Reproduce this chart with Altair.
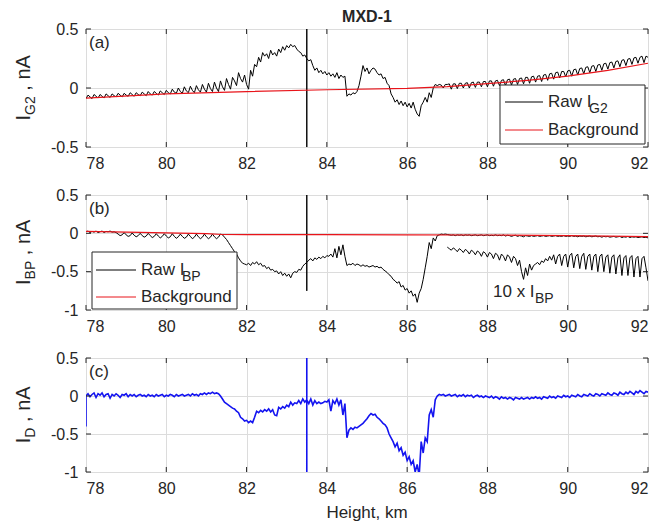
import altair as alt
import pandas as pd

FONT = "Liberation Sans"
TXT = "#262626"
W = 562
H_A, H_B, H_C = 118, 115, 114
X_DOMAIN = [78, 92]
X_TICKS = [78, 80, 82, 84, 86, 88, 90, 92]
STEP = 0.05

# ---------------- panel (a): Raw I_G2 and background ----------------
raw_g2_segments = [
    (78.00, [-0.09, -0.06, -0.075, -0.09, -0.055, -0.07, -0.085, -0.055, -0.07, -0.085,
             -0.05, -0.065, -0.08, -0.05, -0.065, -0.075, -0.045, -0.06, -0.075, -0.045,
             -0.06, -0.07, -0.04, -0.055, -0.07, -0.04, -0.055, -0.065, -0.035, -0.05,
             -0.065, -0.03, -0.05, -0.06, -0.03, -0.045, -0.06, -0.025, -0.04, -0.055, -0.02]),
    (80.05, [-0.04, -0.05, -0.01, -0.035, -0.045, 0.0, -0.03, -0.045, 0.01, -0.025,
             -0.04, 0.015, -0.02, -0.04, 0.02, -0.015, -0.035, 0.03, -0.01, -0.035]),
    (81.05, [0.04, -0.005, -0.03, 0.05, 0.0, -0.03, 0.06, 0.01, -0.02, 0.08,
             0.03, -0.01, 0.09, 0.06, 0.02, 0.13, 0.08, 0.05, 0.11, 0.03]),
    (82.05, [-0.01, 0.15, 0.1, 0.2, 0.18, 0.26, 0.22, 0.3, 0.27, 0.29,
             0.25, 0.32, 0.28, 0.3, 0.27, 0.33, 0.3, 0.35, 0.32, 0.36]),
    (83.05, [0.34, 0.37, 0.35, 0.36, 0.33, 0.31, 0.3, 0.27, 0.28, 0.25,
             0.23, 0.24, 0.19, 0.15, 0.17, 0.13, 0.15, 0.12, 0.14, 0.11]),
    (84.05, [0.13, 0.1, 0.12, 0.09, 0.13, 0.08, 0.11, 0.09, 0.1, -0.07,
             -0.05, -0.06, -0.04, -0.05, -0.03, 0.02, 0.1, 0.19, 0.14, 0.17]),
    (85.05, [0.12, 0.15, 0.17, 0.16, 0.13, 0.11, 0.12, 0.08, 0.09, 0.04,
             0.02, -0.05, -0.08, -0.12, -0.1, -0.14, -0.11, -0.15, -0.12, -0.16]),
    (86.05, [-0.13, -0.17, -0.12, -0.18, -0.22, -0.24, -0.15, -0.12, -0.08, -0.12,
             -0.04, -0.08, 0.0, 0.03, 0.02, 0.03, 0.025, 0.0, 0.03, 0.03]),
    (87.05, [0.035, -0.01, 0.035, 0.035, -0.005, 0.04, 0.04, 0.0, 0.04, 0.045,
             0.0, 0.045, 0.05, 0.005, 0.05, 0.05, 0.01, 0.055, 0.055, 0.01,
             0.06, 0.06, 0.015, 0.06, 0.065, 0.02, 0.065, 0.07, 0.02, 0.07,
             0.075, 0.025, 0.075, 0.08, 0.03, 0.08, 0.085, 0.035, 0.09, 0.09,
             0.04, 0.095, 0.1, 0.05, 0.1, 0.105, 0.055, 0.11, 0.115, 0.065,
             0.12, 0.125, 0.075, 0.13, 0.135, 0.085, 0.14, 0.14, 0.095, 0.145,
             0.15, 0.1, 0.155, 0.16, 0.11, 0.165, 0.17, 0.12, 0.175, 0.18,
             0.13, 0.185, 0.19, 0.14, 0.195, 0.2, 0.15, 0.205, 0.21, 0.16,
             0.215, 0.22, 0.17, 0.225, 0.23, 0.18, 0.235, 0.24, 0.19, 0.245,
             0.25, 0.2, 0.255, 0.26, 0.21, 0.26, 0.27, 0.215, 0.27, 0.26]),
]
raw_g2_spikes = {83.5: [0.6, -0.6, 0.25]}
bg_g2_x = [78, 80, 82, 84, 86, 87, 88, 89, 90, 91, 92]
bg_g2_y = [-0.085, -0.05, -0.03, -0.015, -0.003, 0.012, 0.037, 0.065, 0.1, 0.15, 0.21]

# ---------------- panel (b): Raw I_BP, 10 x I_BP, background ----------------
raw_bp_segments = [
    (78.00, [0.02, 0.03, 0.01, 0.025, 0.015, 0.03, 0.01, 0.02, 0.03, 0.01,
             0.025, 0.02, 0.03, 0.015, 0.02]),
    (78.75, [0.01, -0.01, -0.03, -0.02, 0.01, -0.02, -0.04, -0.03, 0.005, -0.025,
             -0.045, -0.03, 0.0, -0.03, -0.05, -0.035, 0.0, -0.03, -0.055, -0.04,
             -0.005, -0.035, -0.06, -0.04, -0.005, -0.035, -0.06, -0.045, -0.005, -0.04,
             -0.065, -0.045, -0.01, -0.04, -0.065, -0.05, -0.01, -0.04, -0.07, -0.05,
             -0.01, -0.045, -0.07, -0.05, -0.01, -0.045, -0.07, -0.05, -0.01, -0.045,
             -0.07, -0.05, -0.01, -0.02]),
    (81.45, [-0.05, -0.08, -0.12, -0.16, -0.2, -0.24, -0.27, -0.32, -0.36, -0.39,
             -0.4, -0.41]),
    (82.05, [-0.39, -0.42, -0.38, -0.4, -0.37, -0.41, -0.39, -0.43, -0.42, -0.46,
             -0.44, -0.48, -0.47, -0.5, -0.49, -0.53, -0.5, -0.55, -0.52, -0.56,
             -0.53, -0.58, -0.52, -0.5, -0.51, -0.47, -0.48, -0.43, -0.4]),
    (83.50, [-0.38, -0.35, -0.33, -0.36, -0.32, -0.34, -0.31, -0.33, -0.3, -0.32,
             -0.29, -0.3, -0.27, -0.31, -0.2, -0.32, -0.17, -0.28, -0.15, -0.3]),
    (84.50, [-0.42, -0.4, -0.41, -0.39, -0.42, -0.4, -0.41, -0.43, -0.41, -0.43,
             -0.42, -0.44, -0.43, -0.42, -0.44, -0.43, -0.45, -0.44, -0.47, -0.49]),
    (85.50, [-0.51, -0.54, -0.56, -0.6, -0.62, -0.65, -0.63, -0.7, -0.68, -0.74,
             -0.72, -0.78, -0.75, -0.82, -0.79, -0.9, -0.78, -0.72, -0.6, -0.45]),
    (86.50, [-0.3, -0.12, -0.2, -0.06, -0.1, -0.03, -0.02, -0.01, -0.015, -0.01, -0.015]),
    (87.05, [-0.02, -0.025, -0.02, -0.03, -0.02, -0.025, -0.02, -0.03, -0.02, -0.025,
             -0.02, -0.03, -0.025, -0.02, -0.03, -0.025, -0.02, -0.03, -0.025, -0.02,
             -0.03, -0.025, -0.03, -0.02, -0.03, -0.025, -0.03, -0.02, -0.035, -0.025,
             -0.03, -0.04, -0.03, -0.025, -0.04, -0.03, -0.035, -0.045, -0.03]),
    (89.00, [-0.035, -0.04, -0.03, -0.04, -0.035, -0.03, -0.04, -0.035, -0.03, -0.04,
             -0.035, -0.03, -0.04, -0.035, -0.03, -0.04, -0.035, -0.04, -0.03, -0.04,
             -0.035, -0.04, -0.03, -0.04, -0.035, -0.045, -0.035, -0.04, -0.035, -0.045,
             -0.04, -0.035, -0.045, -0.04, -0.035, -0.045, -0.04, -0.05, -0.04, -0.045]),
    (91.00, [-0.04, -0.05, -0.045, -0.04, -0.05, -0.045, -0.04, -0.055, -0.045, -0.05,
             -0.04, -0.055, -0.045, -0.05, -0.045, -0.055, -0.05, -0.045, -0.055, -0.05,
             -0.06]),
]
raw_bp_spikes = {83.5: [0.6, -0.75, -0.38]}
x10_bp_segments = [
    (87.00, [-0.18, -0.2, -0.22, -0.19, -0.21, -0.24, -0.2, -0.22, -0.25, -0.21,
             -0.23, -0.27, -0.22, -0.24, -0.28, -0.23, -0.25, -0.3, -0.24, -0.26,
             -0.31, -0.25, -0.27, -0.33, -0.26, -0.28, -0.35, -0.27, -0.3, -0.36,
             -0.28, -0.31, -0.38, -0.3, -0.33, -0.42, -0.35, -0.5, -0.6, -0.45,
             -0.55, -0.4, -0.48, -0.42, -0.4, -0.38, -0.41, -0.36, -0.38, -0.33,
             -0.36, -0.3, -0.35, -0.28, -0.4, -0.3, -0.27, -0.42, -0.3, -0.27,
             -0.44, -0.29, -0.26, -0.45, -0.3, -0.27, -0.46, -0.3, -0.26, -0.47,
             -0.3, -0.27, -0.48, -0.3, -0.27, -0.5, -0.3, -0.27, -0.5, -0.31,
             -0.28, -0.52, -0.31, -0.28, -0.53, -0.32, -0.28, -0.55, -0.32, -0.29,
             -0.55, -0.32, -0.29, -0.57, -0.33, -0.3, -0.57, -0.33, -0.3, -0.45,
             -0.62]),
]
bg_bp_x = [78, 79, 80, 81, 81.4, 82, 84, 86, 88, 90, 92]
bg_bp_y = [0.025, 0.015, 0.005, -0.005, -0.015, -0.017, -0.018, -0.019, -0.022, -0.03, -0.042]

# ---------------- panel (c): I_D ----------------
id_segments = [
    (78.00, [0.0, 0.03, -0.01, 0.02, 0.04, -0.02, 0.03, 0.01, 0.04, -0.01,
             0.02, 0.03, -0.03, 0.02, 0.0, 0.03, 0.01, -0.02, 0.02, 0.01,
             0.03, -0.01, 0.02, 0.0, 0.02, -0.01, 0.01, 0.02, 0.0, 0.01,
             -0.01, 0.02, 0.0, 0.01, -0.01, 0.02, 0.0, 0.01, 0.02, -0.01,
             0.01, 0.0, 0.02, 0.01, -0.01, 0.02, 0.0, 0.01, 0.02, 0.0,
             0.01, 0.02, 0.0, 0.03, 0.01, 0.02, 0.0, 0.03, 0.02, 0.04,
             0.02, 0.04, 0.03, 0.05, 0.03, 0.04, 0.03]),
    (81.35, [0.0, -0.04, -0.08, -0.1, -0.12, -0.14, -0.16, -0.17, -0.2, -0.22,
             -0.28, -0.3, -0.33, -0.32]),
    (82.05, [-0.35, -0.33, -0.35, -0.28, -0.2, -0.22, -0.19, -0.21, -0.18, -0.2,
             -0.17, -0.21, -0.18, -0.25, -0.26, -0.15, -0.17, -0.14, -0.16, -0.12,
             -0.14, -0.08, -0.12, -0.09, -0.1, -0.06, -0.1, -0.04, -0.08]),
    (83.50, [-0.05, -0.1, -0.04, -0.12, -0.06, -0.1, -0.08, -0.1, -0.09, -0.07,
             -0.08, -0.05, -0.2, -0.06, -0.1, -0.04, -0.12, -0.05, -0.25, -0.1]),
    (84.50, [-0.55, -0.45, -0.42, -0.44, -0.41, -0.42, -0.4, -0.38, -0.36, -0.33,
             -0.3, -0.26, -0.23, -0.25, -0.24, -0.28, -0.3, -0.33, -0.36, -0.38]),
    (85.50, [-0.42, -0.5, -0.55, -0.6, -0.67, -0.62, -0.72, -0.68, -0.78, -0.74,
             -0.85, -0.8, -0.9, -0.85, -1.0, -0.9, -1.05, -0.6, -0.75, -0.55]),
    (86.50, [-0.6, -0.25, -0.18, -0.28, -0.05, 0.0, 0.02, 0.01, 0.02, 0.0, 0.01]),
    (87.05, [0.02, 0.0, 0.01, 0.02, -0.01, 0.01, 0.0, 0.02, -0.01, 0.01,
             0.0, 0.01, -0.02, 0.0, 0.01, -0.01, 0.0, -0.02, 0.0, -0.01]),
    (88.05, [-0.02, 0.0, -0.03, -0.01, -0.02, -0.04, -0.01, -0.03, -0.02, -0.04,
             -0.02, -0.03, -0.05, -0.02, -0.03, -0.04, -0.02, -0.04, -0.03, -0.02]),
    (89.05, [-0.04, -0.02, -0.03, -0.01, -0.03, -0.02, -0.04, -0.01, -0.02, -0.03,
             0.0, -0.02, -0.01, -0.03, 0.0, -0.01, -0.02, 0.01, -0.01, 0.0]),
    (90.05, [-0.02, 0.01, 0.0, -0.01, 0.02, 0.0, -0.01, 0.02, 0.01, 0.0,
             0.03, 0.01, 0.0, 0.03, 0.02, 0.0, 0.03, 0.02, 0.01, 0.04]),
    (91.05, [0.02, 0.01, 0.04, 0.03, 0.01, 0.05, 0.03, 0.02, 0.05, 0.03,
             0.06, 0.04, 0.02, 0.06, 0.04, 0.07, 0.05, 0.03, 0.06, 0.05]),
]
id_spikes = {78.0: [-0.4, 0.0], 83.5: [0.6, -1.1, -0.05]}


def series_df(segments, spikes=None):
    spikes = spikes or {}
    xs, ys = [], []
    for start, vals in segments:
        for k, v in enumerate(vals):
            x = round(start + STEP * k, 2)
            xs.append(x)
            ys.append(v)
            for sx, extra in spikes.items():
                if abs(x - sx) < 1e-6:
                    for e in extra:
                        xs.append(x)
                        ys.append(e)
    return pd.DataFrame({"x": xs, "y": ys, "i": list(range(len(xs)))})


def simple_df(xs, ys):
    return pd.DataFrame({"x": xs, "y": ys, "i": list(range(len(xs)))})


ONE = pd.DataFrame({"k": [0]})


def make_x():
    ax = alt.Axis(values=X_TICKS, grid=True, gridColor="#dcdcdc", gridWidth=1,
                  ticks=False, tickSize=0, domain=False, labelFont=FONT, labelFontSize=16,
                  labelColor=TXT, labelPadding=8, title=None)
    return alt.X("x:Q", scale=alt.Scale(domain=X_DOMAIN, nice=False), axis=ax)


def make_y(domain, ticks):
    ax = alt.Axis(values=ticks, grid=True, gridColor="#dcdcdc", gridWidth=1,
                  ticks=False, tickSize=0, domain=False, labelFont=FONT, labelFontSize=16,
                  labelColor=TXT, labelPadding=8, title=None,
                  labelExpr="toString(datum.value)")
    return alt.Y("y:Q", scale=alt.Scale(domain=domain, nice=False), axis=ax)


def txt(s, x, y, size=17, align="left", baseline="middle", angle=0, weight="normal"):
    kw = dict(font=FONT, fontSize=size, color=TXT, align=align, baseline=baseline,
              fontWeight=weight)
    if angle:
        kw["angle"] = angle
    return alt.Chart(ONE).mark_text(**kw).encode(
        x=alt.value(x), y=alt.value(y), text=alt.value(s))


def line_layer(df, xenc, yenc, color, width):
    return alt.Chart(df).mark_line(color=color, strokeWidth=width, clip=True).encode(
        x=xenc, y=yenc, order=alt.Order("i:Q"))


def tick_layers(xenc, yenc, H, yticks):
    tx = pd.DataFrame({"x": X_TICKS})
    ty = pd.DataFrame({"y": yticks})
    c = dict(color=TXT, strokeWidth=1)
    return [
        alt.Chart(tx).mark_rule(**c).encode(x=xenc, y=alt.value(H), y2=alt.value(H - 5)),
        alt.Chart(tx).mark_rule(**c).encode(x=xenc, y=alt.value(0), y2=alt.value(5)),
        alt.Chart(ty).mark_rule(**c).encode(y=yenc, x=alt.value(0), x2=alt.value(5)),
        alt.Chart(ty).mark_rule(**c).encode(y=yenc, x=alt.value(W), x2=alt.value(W - 5)),
    ]


def ytitle(sub, H, sub_w):
    main = 20
    w_i = 5.6
    rest_w = 46.8
    L = w_i + sub_w + rest_w
    yc = H / 2 - 3
    y0 = yc + L / 2
    x0 = -56
    return [
        txt("I", x0, y0, size=main, baseline="alphabetic", angle=270),
        txt(sub, x0 + 5, y0 - w_i, size=14, baseline="alphabetic", angle=270),
        txt(", nA", x0, y0 - w_i - sub_w - 5.6, size=main, baseline="alphabetic", angle=270),
    ]


RED = "#e8141a"
BLUE = "#1414f0"


def legend(x0, x1, y0, y1, r1, r2, lx0, lx1, tx, sub):
    box = alt.Chart(ONE).mark_rect(fill="white", stroke=TXT, strokeWidth=1).encode(
        x=alt.value(x0), x2=alt.value(x1), y=alt.value(y0), y2=alt.value(y1))
    l1 = alt.Chart(ONE).mark_rule(color="#000000", strokeWidth=1).encode(
        x=alt.value(lx0), x2=alt.value(lx1), y=alt.value(r1))
    l2 = alt.Chart(ONE).mark_rule(color=RED, strokeWidth=1).encode(
        x=alt.value(lx0), x2=alt.value(lx1), y=alt.value(r2))
    return [box, l1, l2, txt("Raw I", tx, r1), txt(sub, tx + 41, r1 + 7, size=14),
            txt("Background", tx, r2)]


# panel (a)
xa = make_x()
ya = make_y([-0.5, 0.5], [-0.5, 0, 0.5])
panel_a = alt.layer(
    line_layer(series_df(raw_g2_segments, raw_g2_spikes), xa, ya, "#000000", 1),
    line_layer(simple_df(bg_g2_x, bg_g2_y), xa, ya, RED, 1.2),
    *tick_layers(xa, ya, H_A, [-0.5, 0, 0.5]),
    *legend(414, 559, 56, 115, 73, 101, 419, 457, 462, "G2"),
    txt("(a)", 3, 14),
    txt("MXD-1", W / 2, -12, size=16, align="center", weight="bold"),
    *ytitle("G2", H_A, 18.7),
).properties(width=W, height=H_A)

# panel (b)
xb = make_x()
yb = make_y([-1, 0.5], [-1, -0.5, 0, 0.5])
panel_b = alt.layer(
    line_layer(series_df(raw_bp_segments, raw_bp_spikes), xb, yb, "#000000", 1),
    line_layer(series_df(x10_bp_segments), xb, yb, "#000000", 1),
    line_layer(simple_df(bg_bp_x, bg_bp_y), xb, yb, RED, 1.2),
    *tick_layers(xb, yb, H_B, [-1, -0.5, 0, 0.5]),
    *legend(6, 151, 57, 114, 75, 102, 10, 50, 55, "BP"),
    txt("10 x I", 407, 97),
    txt("BP", 449, 104, size=14),
    txt("(b)", 3, 14),
    *ytitle("BP", H_B, 18.7),
).properties(width=W, height=H_B)

# panel (c)
xc = make_x()
yc = make_y([-1, 0.5], [-1, -0.5, 0, 0.5])
panel_c = alt.layer(
    line_layer(series_df(id_segments, id_spikes), xc, yc, BLUE, 1.6),
    *tick_layers(xc, yc, H_C, [-1, -0.5, 0, 0.5]),
    txt("(c)", 3, 14),
    txt("Height, km", W / 2, H_C + 41, size=17, align="center"),
    *ytitle("D", H_C, 10.1),
).properties(width=W, height=H_C)

chart = alt.vconcat(panel_a, panel_b, panel_c, spacing=14).resolve_scale(
    y="independent"
).properties(
    padding={"left": 5, "top": 0, "right": 5, "bottom": 0}
).configure_view(stroke=TXT, strokeWidth=1).configure(background="white")

chart.save("out.html", embed_options={"renderer": "svg", "actions": False})
